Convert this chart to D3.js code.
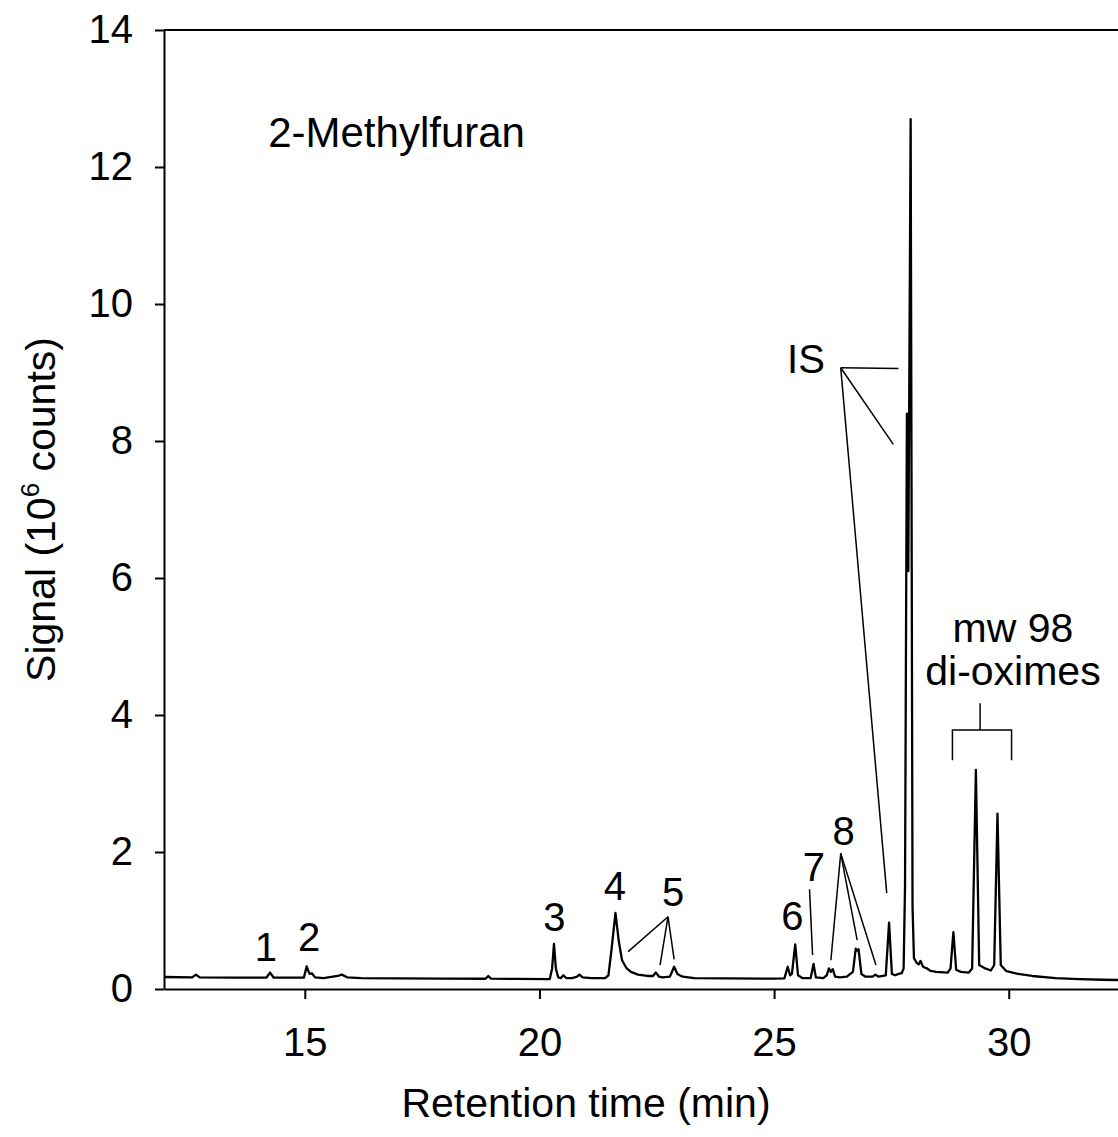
<!DOCTYPE html>
<html>
<head>
<meta charset="utf-8">
<script src="https://cdn.jsdelivr.net/npm/d3@7"></script>
<style>
  body { margin: 0; background: #fff; }
  text { font-family: "Liberation Sans", Arial, sans-serif; fill: #000; }
</style>
</head>
<body>
<div id="chart"></div>
<script>
// retention time (min) and signal (10^6 counts)
var times = [12.00, 12.60, 12.68, 12.76, 13.50, 14.18, 14.26, 14.34, 14.98, 15.04, 15.10, 15.15, 15.22, 15.40, 15.50, 15.70, 15.79, 15.90,
  16.20, 17.00, 18.00, 18.85, 18.91, 18.97, 19.50, 20.22, 20.27, 20.31, 20.35, 20.40, 20.46, 20.51, 20.57, 20.70, 20.80, 20.85, 20.92,
  21.10, 21.40, 21.47, 21.54, 21.62, 21.69, 21.76, 21.85, 21.95, 22.10, 22.30, 22.42, 22.48, 22.55, 22.62, 22.78, 22.87, 22.94, 23.05,
  23.30, 24.00, 25.00, 25.22, 25.29, 25.34, 25.38, 25.45, 25.51, 25.60, 25.78, 25.84, 25.89, 26.05, 26.12, 26.17, 26.21, 26.25, 26.30,
  26.40, 26.55, 26.68, 26.74, 26.77, 26.80, 26.86, 26.95, 27.10, 27.16, 27.22, 27.38, 27.45, 27.51, 27.58, 27.65, 27.72, 27.76, 27.79,
  27.83, 27.86, 27.91, 27.95, 27.98, 28.04, 28.08, 28.12, 28.17, 28.22, 28.26, 28.32, 28.45, 28.70, 28.76, 28.82, 28.88, 28.98, 29.15,
  29.22, 29.30, 29.37, 29.50, 29.62, 29.69, 29.76, 29.83, 29.95, 30.20, 30.50, 31.00, 31.50, 32.00, 32.50, 33.00];
var signal = [0.175, 0.170, 0.210, 0.170, 0.165, 0.165, 0.240, 0.165, 0.165, 0.330, 0.220, 0.230, 0.170, 0.160, 0.170, 0.190, 0.210, 0.170,
  0.160, 0.155, 0.150, 0.150, 0.190, 0.150, 0.147, 0.145, 0.300, 0.660, 0.300, 0.170, 0.160, 0.200, 0.160, 0.160, 0.180, 0.210, 0.170,
  0.160, 0.160, 0.200, 0.600, 1.110, 0.700, 0.420, 0.310, 0.250, 0.210, 0.190, 0.190, 0.240, 0.180, 0.170, 0.180, 0.325, 0.220, 0.180,
  0.160, 0.155, 0.150, 0.155, 0.325, 0.200, 0.220, 0.650, 0.200, 0.160, 0.160, 0.365, 0.170, 0.160, 0.200, 0.300, 0.250, 0.290, 0.180,
  0.170, 0.180, 0.250, 0.590, 0.560, 0.580, 0.220, 0.180, 0.180, 0.210, 0.180, 0.200, 0.970, 0.220, 0.200, 0.220, 0.230, 0.300, 1.500,
  8.400, 6.100, 12.700, 1.200, 0.450, 0.380, 0.360, 0.410, 0.330, 0.310, 0.300, 0.270, 0.250, 0.240, 0.300, 0.830, 0.280, 0.250, 0.240,
  0.300, 3.200, 0.350, 0.300, 0.270, 0.350, 2.560, 0.350, 0.260, 0.220, 0.190, 0.160, 0.145, 0.135, 0.130, 0.125];

var xTicks = [15, 20, 25, 30];
var yTicks = [0, 2, 4, 6, 8, 10, 12, 14];

// peak labels: text, time, signal (text baseline)
var peakNames = ["1", "2", "3", "4", "5", "6", "7", "8", "IS"];
var peakLabelT = [14.17, 15.09, 20.32, 21.61, 22.85, 25.39, 25.85, 26.48, 25.68];
var peakLabelV = [0.41, 0.555, 0.85, 1.30, 1.21, 0.86, 1.58, 2.10, 8.99];

// leader lines: [from time, from signal, to time, to signal]
var leaders = [
  [22.74, 1.055, 21.89, 0.545], [22.74, 1.055, 22.57, 0.35], [22.74, 1.055, 22.87, 0.434],
  [25.755, 1.455, 25.82, 0.496],
  [26.42, 1.98, 26.21, 0.42], [26.42, 1.98, 26.77, 0.715], [26.42, 1.98, 27.17, 0.35],
  [26.42, 9.07, 27.65, 9.06], [26.42, 9.07, 27.54, 7.95], [26.42, 9.07, 27.40, 1.40]
];
// bracket over the di-oxime peaks
var bracketT = [28.80, 29.39, 30.06];
var bracketV = [3.34, 3.78, 4.17];

var width = 1118, height = 1137;

var svg = d3.select("#chart").append("svg")
    .attr("width", width)
    .attr("height", height);

var x = d3.scaleLinear().domain([12, 34]).range([164, 164 + 22 * 46.93]);
var y = d3.scaleLinear().domain([0, 14]).range([989, 30]);

// frame top line
svg.append("line")
    .attr("x1", x(12)).attr("x2", x(34))
    .attr("y1", y(14)).attr("y2", y(14))
    .attr("stroke", "#000").attr("stroke-width", 2);

var xAxis = svg.append("g")
    .attr("transform", "translate(0," + y(0) + ")")
    .call(d3.axisBottom(x).tickValues(xTicks).tickSize(10).tickSizeOuter(0).tickPadding(29));

var yAxis = svg.append("g")
    .attr("transform", "translate(" + x(12) + ",0)")
    .call(d3.axisLeft(y).tickValues(yTicks).tickSize(9).tickSizeOuter(0).tickPadding(22));

svg.selectAll(".domain, .tick line").attr("stroke", "#000").attr("stroke-width", 2);
svg.selectAll(".tick text")
    .style("font-family", "'Liberation Sans', Arial, sans-serif")
    .style("font-size", "40px")
    .attr("fill", "#000");

// chromatogram trace
var pts = times.map(function (t, i) { return [t, signal[i]]; });
var line = d3.line()
    .x(function (d) { return x(d[0]); })
    .y(function (d) { return y(d[1]); });

svg.append("path")
    .datum(pts)
    .attr("d", line)
    .attr("fill", "none")
    .attr("stroke", "#000")
    .attr("stroke-width", 2.3)
    .attr("stroke-linejoin", "round");

// leader lines
svg.selectAll(".leader")
    .data(leaders).enter().append("line")
    .attr("class", "leader")
    .attr("x1", function (d) { return x(d[0]); })
    .attr("y1", function (d) { return y(d[1]); })
    .attr("x2", function (d) { return x(d[2]); })
    .attr("y2", function (d) { return y(d[3]); })
    .attr("stroke", "#000")
    .attr("stroke-width", 1.5);

// bracket
svg.append("path")
    .attr("d", "M" + x(bracketT[0]) + "," + y(bracketV[0]) +
               "V" + y(bracketV[1]) + "H" + x(bracketT[2]) + "V" + y(bracketV[0]) +
               "M" + x(bracketT[1]) + "," + y(bracketV[1]) + "V" + y(bracketV[2]))
    .attr("fill", "none")
    .attr("stroke", "#000")
    .attr("stroke-width", 1.5);

// peak labels
svg.selectAll(".peak")
    .data(peakNames).enter().append("text")
    .attr("class", "peak")
    .attr("x", function (d, i) { return x(peakLabelT[i]); })
    .attr("y", function (d, i) { return y(peakLabelV[i]); })
    .attr("text-anchor", "middle")
    .style("font-size", "40px")
    .text(function (d) { return d; });

svg.append("text")
    .attr("x", x(30.09)).attr("y", y(5.06))
    .attr("text-anchor", "middle")
    .style("font-size", "41px")
    .text("mw 98");
svg.append("text")
    .attr("x", x(30.09)).attr("y", y(4.44))
    .attr("text-anchor", "middle")
    .style("font-size", "41px")
    .text("di-oximes");

svg.append("text")
    .attr("x", x(14.22)).attr("y", y(12.29))
    .style("font-size", "42px")
    .text("2-Methylfuran");

// axis titles
svg.append("text")
    .attr("x", 586).attr("y", 1117)
    .attr("text-anchor", "middle")
    .style("font-size", "41px")
    .text("Retention time (min)");

var yt = svg.append("text")
    .attr("transform", "translate(55," + ((y(0) + y(14)) / 2) + ") rotate(-90)")
    .attr("text-anchor", "middle")
    .style("font-size", "41px");
yt.append("tspan").text("Signal (10");
yt.append("tspan").attr("dy", -16).style("font-size", "26px").text("6");
yt.append("tspan").attr("dy", 16).text(" counts)");
</script>
</body>
</html>
